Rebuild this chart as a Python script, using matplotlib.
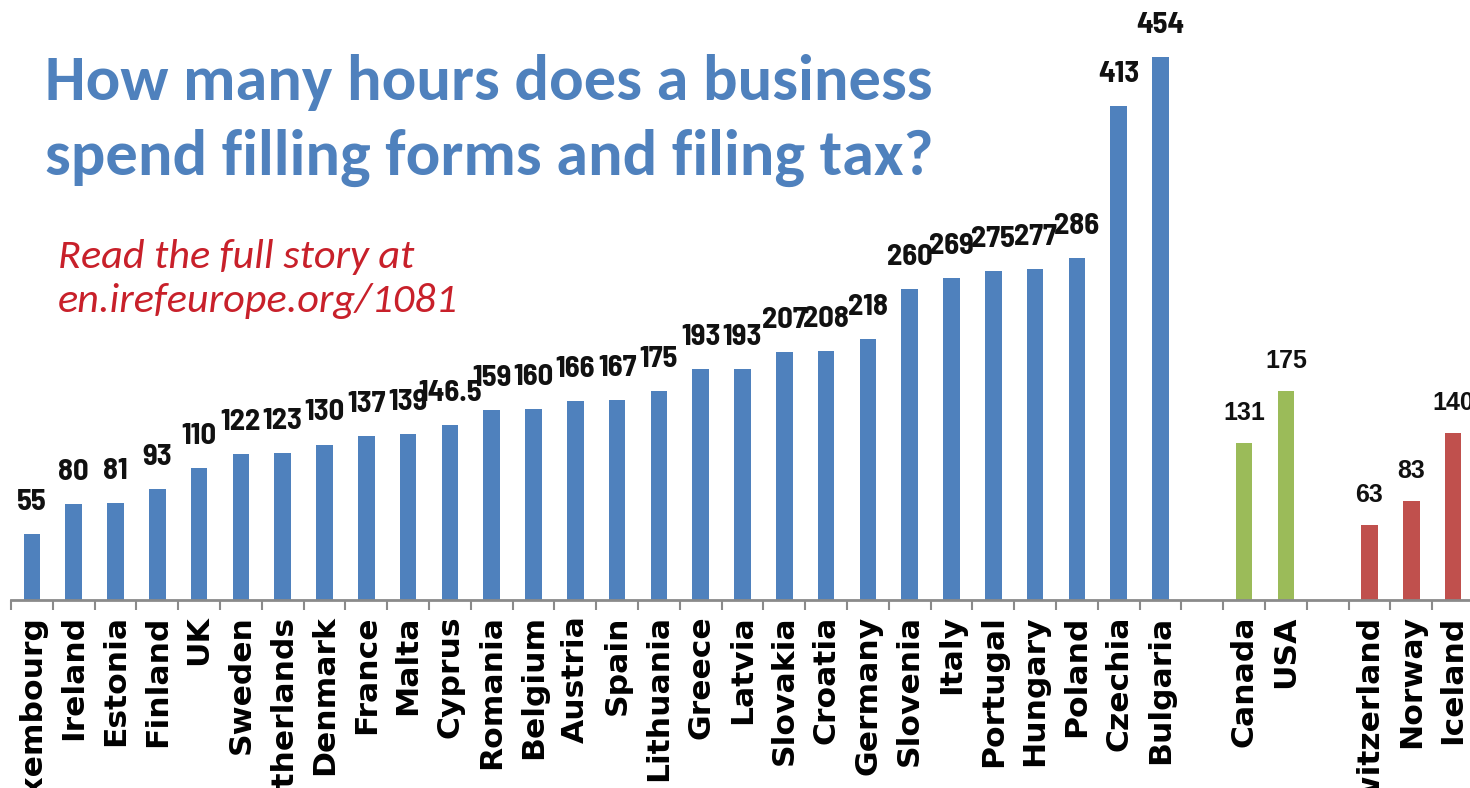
import matplotlib
matplotlib.use("Agg")
import matplotlib.pyplot as plt
from matplotlib import font_manager
from matplotlib.ticker import FixedLocator

eu_countries = ["Luxembourg", "Ireland", "Estonia", "Finland", "UK", "Sweden",
                "Netherlands", "Denmark", "France", "Malta", "Cyprus", "Romania",
                "Belgium", "Austria", "Spain", "Lithuania", "Greece", "Latvia",
                "Slovakia", "Croatia", "Germany", "Slovenia", "Italy", "Portugal",
                "Hungary", "Poland", "Czechia", "Bulgaria"]
eu_hours = [55, 80, 81, 93, 110, 122, 123, 130, 137, 139, 146.5, 159, 160, 166,
            167, 175, 193, 193, 207, 208, 218, 260, 269, 275, 277, 286, 413, 454]
na_countries = ["Canada", "USA"]
na_hours = [131, 175]
efta_countries = ["Switzerland", "Norway", "Iceland"]
efta_hours = [63, 83, 140]

installed = {f.name for f in font_manager.fontManager.ttflist}
calibri_like = "Carlito" if "Carlito" in installed else "Lato"
narrow = "Barlow Semi Condensed" if "Barlow Semi Condensed" in installed else "DejaVu Sans"

groups = [
    (eu_countries, eu_hours, "#4F81BD", narrow, 22),
    (na_countries, na_hours, "#9BBB59", "Liberation Sans", 18),
    (efta_countries, efta_hours, "#C0504D", "Liberation Sans", 18),
]

fig = plt.figure(figsize=(14.7, 7.88), dpi=100)
ax = fig.add_axes([11 / 1470, 188 / 788, 1463 / 1470, 600 / 788])

all_pos, all_names = [], []
start = 0
for names, hours, color, fam, fs in groups:
    pos = list(range(start, start + len(names)))
    ax.bar(pos, hours, width=0.4, color=color, zorder=2)
    for x, v in zip(pos, hours):
        ax.annotate(f"{v:g}", (x, v), xytext=(0, 13), textcoords="offset points",
                    ha="center", va="bottom", fontsize=fs, fontweight="bold",
                    family=fam, color="#111111")
    all_pos += pos
    all_names += names
    start += len(names) + 1

ax.set_xlim(-0.5, start - 1.5)
ax.set_ylim(0, 501.7)

ax.set_xticks(all_pos)
ax.set_xticklabels(all_names, rotation=90, fontsize=20, fontweight="bold",
                   family="DejaVu Sans", va="top", ha="center")
ax.tick_params(axis="x", which="major", length=0, pad=11)
ax.xaxis.set_minor_locator(FixedLocator([i - 0.5 for i in range(start)]))
ax.tick_params(axis="x", which="minor", length=7, width=1.5, color="#8a8a8a",
               direction="out")
ax.set_yticks([])
for s in ["top", "right", "left"]:
    ax.spines[s].set_visible(False)
ax.spines["bottom"].set_color("#8a8a8a")
ax.spines["bottom"].set_linewidth(2)
ax.patch.set_alpha(0)

title1 = fig.text(45 / 1470, 1 - 100 / 788, "How many hours does a business",
                  fontsize=40, color="#4F81BD", family=calibri_like,
                  fontweight="bold", va="baseline")
title2 = fig.text(45 / 1470, 1 - 175 / 788, "spend filling forms and filing tax?",
                  fontsize=40, color="#4F81BD", family=calibri_like,
                  fontweight="bold", va="baseline")
red1 = fig.text(58 / 1470, 1 - 268 / 788, "Read the full story at",
                fontsize=26, color="#C8202A", family=calibri_like, style="italic",
                va="baseline")
red2 = fig.text(58 / 1470, 1 - 312 / 788, "en.irefeurope.org/1081",
                fontsize=26, color="#C8202A", family=calibri_like, style="italic",
                va="baseline")

# scale the free texts so their lengths match the original
renderer = fig.canvas.get_renderer()


def fit(texts, ref, target):
    bb = ref.get_window_extent(renderer)
    size = ref.get_fontsize() * target / max(bb.width, bb.height)
    for t in texts:
        t.set_fontsize(size)


fit([title1, title2], title1, 885)
fit([red1, red2], red2, 400)
bulg = ax.get_xticklabels()[all_names.index("Bulgaria")]
fit(ax.get_xticklabels(), bulg, 148)

fig.savefig("out.png", dpi=100)
